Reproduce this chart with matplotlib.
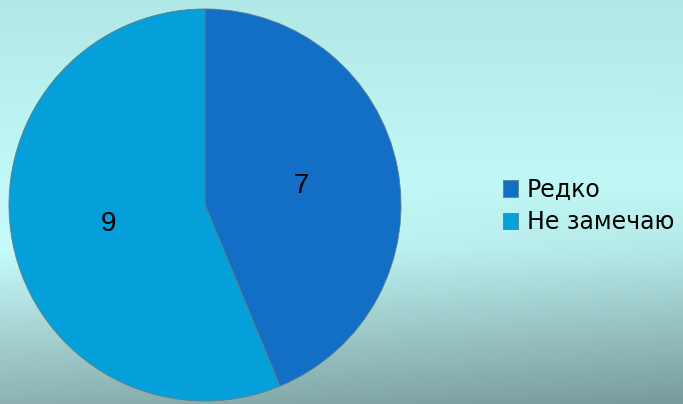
import numpy as np
import matplotlib
matplotlib.use("Agg")
import matplotlib.pyplot as plt
from matplotlib.colors import to_rgb

plt.rcParams['font.family'] = ['Liberation Sans', 'DejaVu Sans']

categories = ["Редко", "Не замечаю"]
values = [7, 9]
colors = ["#136fc6", "#059fd9"]

W, H, DPI = 683, 404, 100
fig = plt.figure(figsize=(W / DPI, H / DPI), dpi=DPI)

# Background: soft cyan gradient, brightest just below the middle, darker toward the bottom
bg = fig.add_axes([0, 0, 1, 1], zorder=-10)
bg.set_axis_off()
ny, nx = 202, 120
t = np.linspace(0, 1, ny)[:, None]
s = np.linspace(0, 1, nx)[None, :]
stops_y = [0.0, 0.45, 0.62, 1.0]
left_cols = [to_rgb(c) for c in ["#b2e9e8", "#c0f9f7", "#c6fbfb", "#8db2b2"]]
right_cols = [to_rgb(c) for c in ["#b2e8e8", "#bff8f5", "#b4e8e7", "#779b9b"]]
img = np.zeros((ny, nx, 3))
for ch in range(3):
    lc = np.interp(t[:, 0], stops_y, [c[ch] for c in left_cols])[:, None]
    rc = np.interp(t[:, 0], stops_y, [c[ch] for c in right_cols])[:, None]
    img[:, :, ch] = lc * (1 - s) + rc * s
bg.imshow(img, aspect="auto", extent=[0, 1, 0, 1], origin="upper")
bg.set_xlim(0, 1)
bg.set_ylim(0, 1)

# Pie chart
ax = fig.add_axes([8 / W, 2 / H, 394 / W, 394 / H])
ax.set_facecolor("none")
wedges, texts = ax.pie(
    values,
    colors=colors,
    startangle=90,
    counterclock=False,
    labels=[str(v) for v in values],
    labeldistance=0.5,
    wedgeprops=dict(edgecolor="#5f7f86", linewidth=0.6),
    textprops=dict(fontsize=20, color="#000000", ha="center", va="center"),
)
ax.set_xlim(-1.005, 1.005)
ax.set_ylim(-1.005, 1.005)
ax.set_aspect("equal")

fig.legend(
    wedges, categories,
    loc="center left",
    bbox_to_anchor=(503 / W, 1 - 206 / H),
    frameon=False,
    prop=dict(family=["DejaVu Sans"], size=17),
    labelcolor="#000000",
    handlelength=0.64,
    handleheight=0.68,
    handletextpad=0.36,
    labelspacing=0.36,
    borderaxespad=0,
    borderpad=0,
)

fig.savefig("out.png", dpi=DPI)
